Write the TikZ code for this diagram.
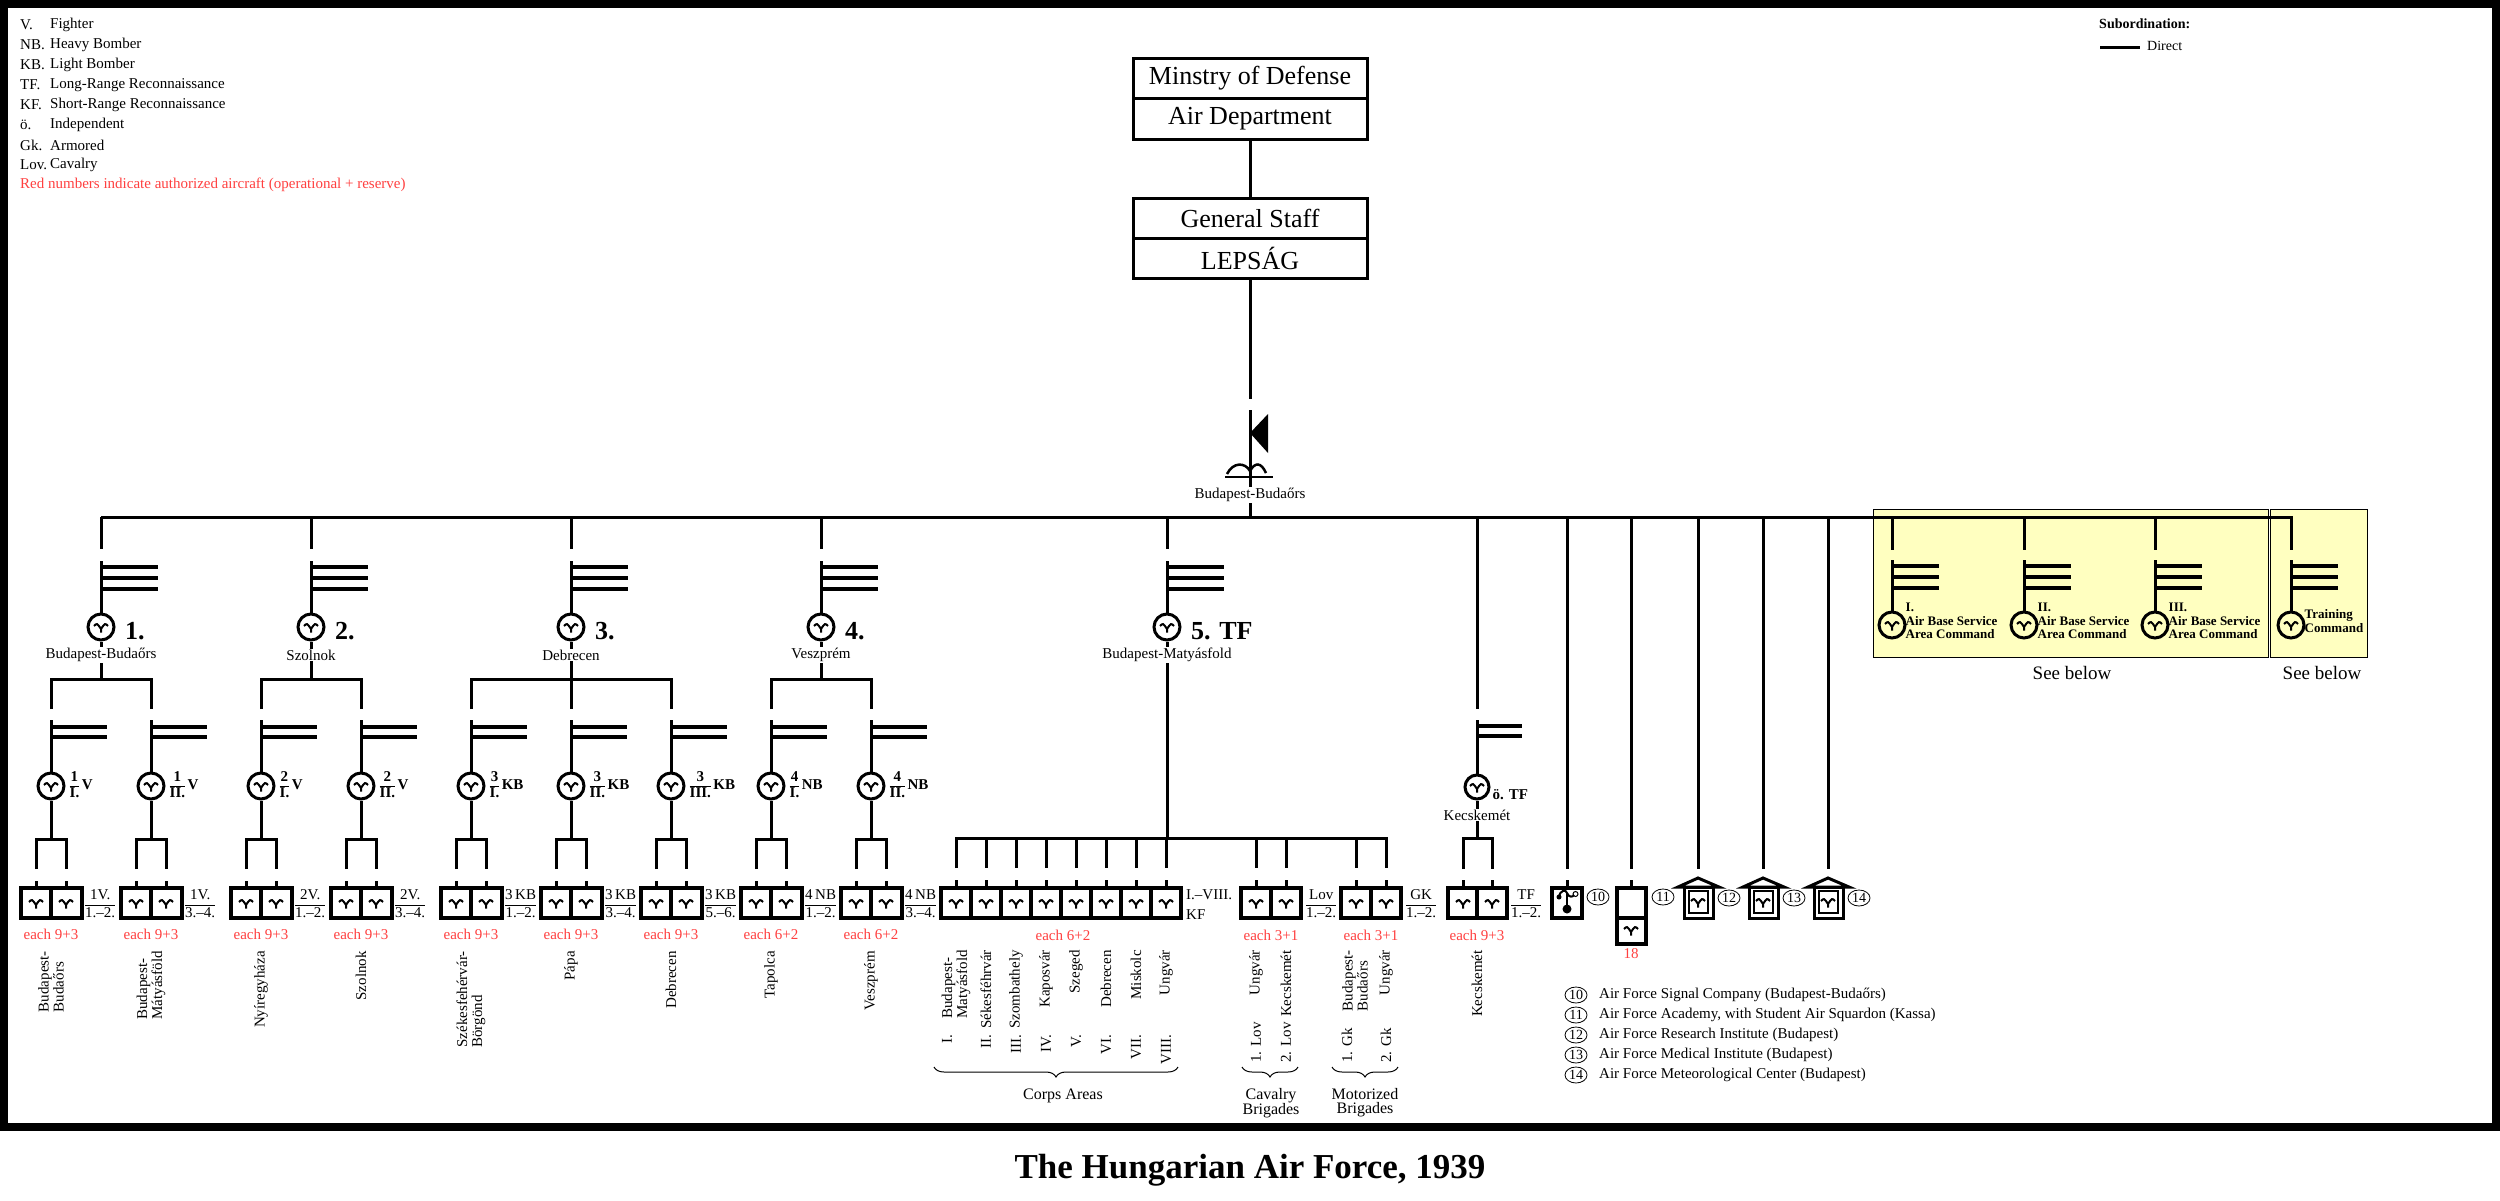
\documentclass[tikz,border=0pt]{standalone}
\usepackage{fontspec}
\setmainfont{Liberation Serif}
\usetikzlibrary{calc,shapes.geometric,decorations.pathreplacing}
\definecolor{rednum}{RGB}{255,64,64}
\definecolor{paleyellow}{RGB}{255,255,192}
\setlength{\arrayrulewidth}{1pt}
\tikzset{
  conn/.style={line width=3pt},
  bars/.style={line width=4.5pt},
  ubox/.style={line width=4pt},
  gullst/.style={line width=2pt},
  wing/.style={draw, circle, line width=3pt, minimum size=26pt, inner sep=0pt},
  lbl/.style={font=\fontsize{15}{17}\selectfont, inner sep=1pt},
  lblw/.style={lbl, fill=white},
  leg/.style={lbl, anchor=west},
  redno/.style={lbl, text=rednum},
  vert/.style={font=\fontsize{15}{15}\selectfont, inner sep=1pt, rotate=90, anchor=east, align=left},
  grp/.style={font=\fontsize{26}{28}\selectfont\bfseries, anchor=west, inner sep=1pt},
  frcl/.style={font=\fontsize{15}{15}\selectfont\bfseries, anchor=west, inner sep=0.5pt},
  cmdl/.style={font=\fontsize{13}{13.5}\selectfont\bfseries, anchor=west, align=left, inner sep=0.5pt},
  hq/.style={draw, line width=3pt, minimum width=234pt, minimum height=40.5pt, inner sep=0pt, font=\fontsize{26}{28}\selectfont},
  numc/.style={draw, ellipse, line width=0.8pt, inner sep=0pt, minimum width=22pt, minimum height=16pt, font=\fontsize{14}{14}\selectfont},
}
\def\frc#1#2{\begin{tabular}{@{}c@{}}#1\\\hline #2\end{tabular}}
\def\gull(#1){\draw[gullst,shift={(#1)}] (-7,-1) .. controls (-4,-4) .. (0,2) .. controls (4,-4) .. (7,-1) (0,2) -- (0,5.5);}
\def\flagIII#1#2#3{\draw[bars] (#1,#2+6) -- (#1+#3,#2+6) (#1,#2+17) -- (#1+#3,#2+17) (#1,#2+28) -- (#1+#3,#2+28);}
\def\flagII#1#2#3{\draw[bars] (#1,#2+7) -- (#1+#3,#2+7) (#1,#2+17) -- (#1+#3,#2+17);}
% group: x, number, seat, foot of the line
\def\group#1#2#3#4{%
  \draw[conn] (#1,517) -- (#1,549);
  \draw[conn] (#1,561) -- (#1,614);
  \flagIII{#1}{561}{57}
  \node[wing] (g#1) at (#1,627) {};
  \gull(#1,627)
  \node[grp] (gn#1) at (#1+23,631) {#2};
  \draw[conn] (g#1) -- (#1,#4);
  \node[lblw] (gc#1) at (#1,655) {#3};
}
% squadron pair: x, top label, box label, aircraft, base
\def\squadron#1#2#3#4#5{%
  \draw[conn] (#1,720) -- (#1,773);
  \flagII{#1}{720}{56}
  \node[wing] (s#1) at (#1,786) {};
  \gull(#1,786)
  \node[frcl] (sf#1) at (#1+18,786) {#2};
  \draw[conn] (s#1) -- (#1,839);
  \draw[conn] (#1-15,869) -- (#1-15,839) -- (#1+15,839) -- (#1+15,869);
  \draw[conn] (#1-15,881) -- (#1-15,888) (#1+15,881) -- (#1+15,888);
  \draw[ubox] (#1-30,888) rectangle (#1+31,918) (#1,888) -- (#1,918);
  \gull(#1-15,903) \gull(#1+15,903)
  \node[lbl, anchor=west] (sb#1) at (#1+33,905) {#3};
  \node[redno] (sr#1) at (#1,934) {#4};
  \node[vert] (sc#1) at (#1,950) {#5};
}
% area command: x, text
\def\command#1#2{%
  \draw[conn] (#1,517) -- (#1,550);
  \draw[conn] (#1,560) -- (#1,612);
  \flagIII{#1}{560}{47}
  \node[wing] (a#1) at (#1,625) {};
  \gull(#1,625)
  \node[cmdl] (al#1) at (#1+13,621) {#2};
}
% institute: x, number
\def\institute#1#2{%
  \draw[conn] (#1,517) -- (#1,869);
  \draw[conn] (#1-20,887) -- (#1,878) -- (#1+21,887) -- cycle;
  \draw[conn] (#1-14,887) rectangle (#1+15,918);
  \draw[line width=2pt] (#1-9,891) rectangle (#1+10,913);
  \gull(#1,902)
  \node[numc] (n#2) at (#1+31,898) {#2};
}

\begin{document}
\begin{tikzpicture}[x=1pt,y=-1pt]
		%%%%% START %%%%%
		\useasboundingbox (0,0) rectangle (2500,1200);
		\fill[white] (0,0) rectangle (2500,1200);
		\draw[line width=8pt] (4,4) rectangle (2496,1127);
		
		% abbreviations
		\node[leg] (k1) at (19,25) {V.};   \node[leg] (m1) at (49,25) {Fighter};
		\node[leg] (k2) at (19,45) {NB.};  \node[leg] (m2) at (49,45) {Heavy Bomber};
		\node[leg] (k3) at (19,65) {KB.};  \node[leg] (m3) at (49,65) {Light Bomber};
		\node[leg] (k4) at (19,85) {TF.};  \node[leg] (m4) at (49,85) {Long-Range Reconnaissance};
		\node[leg] (k5) at (19,105) {KF.}; \node[leg] (m5) at (49,105) {Short-Range Reconnaissance};
		\node[leg] (k6) at (19,125) {ö.};  \node[leg] (m6) at (49,125) {Independent};
		\node[leg] (k7) at (19,145) {Gk.}; \node[leg] (m7) at (49,145) {Armored};
		\node[leg] (k8) at (19,165) {Lov.};\node[leg] (m8) at (49,165) {Cavalry};
		\node[leg, text=rednum] (k9) at (19,185) {Red numbers indicate authorized aircraft (operational + reserve)};
		
		\node[leg, font=\fontsize{14}{16}\selectfont\bfseries] (sub) at (2098,24) {Subordination:};
		\coordinate (d1) at (2100,47); \coordinate (d2) at (2140,47);
		\draw[conn] (d1) -- (d2);
		\node[leg, font=\fontsize{14}{16}\selectfont] (dir) at (2146,46) {Direct};
		
		% top of the chain
		\node[hq] (mod) at (1250,78.5) {Minstry of Defense};
		\node[hq] (aird) at (1250,119) {Air Department};
		\node[hq] (gs) at (1250,218.5) {General Staff};
		\node[hq] (lep) at (1250,258.5) {LEPSÁG};
		\draw[conn] (aird) -- (gs);
		\coordinate (hqgap) at (1250,399);
		\coordinate (hqbase) at (1250,410);
		\coordinate (hub) at (1250,517);
		\draw[conn] (lep) -- (hqgap);
		\draw[conn] (hqbase) -- (hub);
		\fill (1250,433) -- (1268,414) -- (1268,453) -- cycle;
		\draw[line width=2.5pt] (1225,477) -- (1273,477);
		\draw[line width=2.5pt] (1227,474) .. controls (1233,462) and (1245,462) .. (1250,471) .. controls (1255,462) and (1261,462) .. (1266,473);
		\node[lblw] (hqcity) at (1250,495) {Budapest-Budaőrs};
		
		% area commands
		\draw[line width=1pt, fill=paleyellow] (1873,509) rectangle (2268,657);
		\draw[line width=1pt, fill=paleyellow] (2270,509) rectangle (2367,657);
		\node[font=\fontsize{19}{21}\selectfont] (see1) at (2072,673) {See below};
		\node[font=\fontsize{19}{21}\selectfont] (see2) at (2322,673) {See below};
		
		% bus
		\coordinate (busl) at (101,517); \coordinate (busr) at (2291,517);
		\draw[conn] (busl) -- (busr) -- (2291,550);
		
		\command{1892}{I.\\Air Base Service\\Area Command}
		\command{2024}{II.\\Air Base Service\\Area Command}
		\command{2155}{III.\\Air Base Service\\Area Command}
		\command{2291}{Training\\Command}
		
		% air brigades
		\group{101}{1.}{Budapest-Budaőrs}{679}
		\group{311}{2.}{Szolnok}{679}
		\group{571}{3.}{Debrecen}{709}
		\group{821}{4.}{Veszprém}{679}
		\group{1167}{5. TF}{Budapest-Matyásfold}{838}
		
		\draw[conn] (51,709) -- (51,679) -- (151,679) -- (151,709);
		\draw[conn] (261,709) -- (261,679) -- (361,679) -- (361,709);
		\draw[conn] (471,709) -- (471,679) -- (671,679) -- (671,709);
		\draw[conn] (771,709) -- (771,679) -- (871,679) -- (871,709);
		
		\squadron{51}{\frc{1}{I.}\,V}{\frc{1V.}{1.–2.}}{each 9+3}{Budapest-\\Budaőrs}
		\squadron{151}{\frc{1}{II.}\,V}{\frc{1V.}{3.–4.}}{each 9+3}{Budapest-\\Mátyásföld}
		\squadron{261}{\frc{2}{I.}\,V}{\frc{2V.}{1.–2.}}{each 9+3}{Nyíregyháza}
		\squadron{361}{\frc{2}{II.}\,V}{\frc{2V.}{3.–4.}}{each 9+3}{Szolnok}
		\squadron{471}{\frc{3}{I.}\,KB}{\frc{3\,KB}{1.–2.}}{each 9+3}{Székesfehérvár-\\Börgönd}
		\squadron{571}{\frc{3}{II.}\,KB}{\frc{3\,KB}{3.–4.}}{each 9+3}{Pápa}
		\squadron{671}{\frc{3}{III.}\,KB}{\frc{3\,KB}{5.–6.}}{each 9+3}{Debrecen}
		\squadron{771}{\frc{4}{I.}\,NB}{\frc{4\,NB}{1.–2.}}{each 6+2}{Tapolca}
		\squadron{871}{\frc{4}{II.}\,NB}{\frc{4\,NB}{3.–4.}}{each 6+2}{Veszprém}
		
		% reconnaissance
		\draw[conn] (956,868) -- (956,838) -- (1386,838) -- (1386,868);
		\draw[conn] (986,838) -- (986,868) (1016,838) -- (1016,868) (1046,838) -- (1046,868) (1076,838) -- (1076,868)
		            (1106,838) -- (1106,868) (1136,838) -- (1136,868) (1166,838) -- (1166,868)
		            (1256,838) -- (1256,868) (1286,838) -- (1286,868) (1356,838) -- (1356,868);
		\foreach \x in {956,986,...,1166,1256,1286,1356,1386} {
			\draw[conn] (\x,880) -- (\x,888);
			\gull(\x,903)
		}
		\draw[ubox] (941,888) rectangle (1181,918);
		\foreach \x in {971,1001,...,1151} \draw[ubox] (\x,888) -- (\x,918);
		\draw[ubox] (1241,888) rectangle (1301,918) (1271,888) -- (1271,918);
		\draw[ubox] (1341,888) rectangle (1401,918) (1371,888) -- (1371,918);
		\node[lbl, anchor=west, align=left, font=\fontsize{15}{20}\selectfont] (kfl) at (1185,905) {I.–VIII.\\KF};
		\node[lbl, anchor=west] (lovl) at (1305,905) {\frc{Lov}{1.–2.}};
		\node[lbl, anchor=west] (gkl) at (1405,905) {\frc{GK}{1.–2.}};
		\node[redno] (r5) at (1063,935) {each 6+2};
		\node[redno] (rlov) at (1271,935) {each 3+1};
		\node[redno] (rgk) at (1371,935) {each 3+1};
		
		\node[vert] (cc1) at (956,949) {Budapest-\\Matyásfold};
		\node[vert] (cc2) at (986,949) {Sékesféhrvár};
		\node[vert] (cc3) at (1016,949) {Szombathely};
		\node[vert] (cc4) at (1046,949) {Kaposvár};
		\node[vert] (cc5) at (1076,949) {Szeged};
		\node[vert] (cc6) at (1106,949) {Debrecen};
		\node[vert] (cc7) at (1136,949) {Miskolc};
		\node[vert] (cc8) at (1166,949) {Ungvár};
		\node[vert] (cn1) at (947,1034) {I.};
		\node[vert] (cn2) at (986,1034) {II.};
		\node[vert] (cn3) at (1016,1034) {III.};
		\node[vert] (cn4) at (1046,1034) {IV.};
		\node[vert] (cn5) at (1076,1034) {V.};
		\node[vert] (cn6) at (1106,1034) {VI.};
		\node[vert] (cn7) at (1136,1034) {VII.};
		\node[vert] (cn8) at (1166,1034) {VIII.};
		\node[vert] (lc1) at (1256,949) {Ungvár};
		\node[vert] (lc2) at (1286,949) {Kecskemét};
		\node[vert, anchor=west] (ln1) at (1256,1064) {1. Lov};
		\node[vert, anchor=west] (ln2) at (1286,1064) {2. Lov};
		\node[vert] (mc1) at (1355,949) {Budapest-\\Budaőrs};
		\node[vert] (mc2) at (1386,949) {Ungvár};
		\node[vert, anchor=west] (mn1) at (1347,1064) {1. Gk};
		\node[vert, anchor=west] (mn2) at (1386,1064) {2. Gk};
		
		\draw[line width=1pt, decorate, decoration={brace, mirror, amplitude=10pt}] (934,1067) -- (1178,1067);
		\draw[line width=1pt, decorate, decoration={brace, mirror, amplitude=10pt}] (1242,1067) -- (1298,1067);
		\draw[line width=1pt, decorate, decoration={brace, mirror, amplitude=10pt}] (1332,1067) -- (1398,1067);
		\node[lbl, font=\fontsize{16}{14}\selectfont] (ca) at (1063,1096) {Corps Areas};
		\node[lbl, align=center, font=\fontsize{16}{14}\selectfont] (cb) at (1271,1103) {Cavalry\\Brigades};
		\node[lbl, align=center, font=\fontsize{16}{14}\selectfont] (mb) at (1365,1103) {Motorized\\Brigades};
		
		% independent long-range squadron
		\draw[conn] (1477,517) -- (1477,709);
		\draw[conn] (1477,720) -- (1477,774);
		\flagII{1477}{719}{45}
		\node[wing, minimum size=24pt] (oe) at (1477,787) {};
		\gull(1477,787)
		\node[frcl, font=\fontsize{15}{15}\selectfont\bfseries] (oel) at (1492,795) {ö. TF};
		\draw[conn] (oe) -- (1477,838);
		\node[lblw] (oec) at (1477,815) {Kecskemét};
		\draw[conn] (1463,869) -- (1463,838) -- (1492,838) -- (1492,869);
		\draw[conn] (1463,880) -- (1463,888) (1492,880) -- (1492,888);
		\draw[ubox] (1448,888) rectangle (1507,918) (1477,888) -- (1477,918);
		\gull(1463,903) \gull(1492,903)
		\node[lbl, anchor=west] (oeb) at (1510,905) {\frc{TF}{1.–2.}};
		\node[redno] (oer) at (1477,935) {each 9+3};
		\node[vert] (oev) at (1477,949) {Kecskemét};
		
		% signal company
		\draw[conn] (1567,517) -- (1567,869);
		\draw[conn] (1567,880) -- (1567,888);
		\draw[ubox] (1552,888) rectangle (1582,918);
		\draw[line width=2pt] (1567,893) -- (1567,908);
		\fill (1567,909) circle (4.5);
		\fill (1559,897) circle (2.5);
		\draw[line width=2pt] (1559,897) .. controls (1560,890) and (1566,889) .. (1567,893) .. controls (1569,898) and (1573,897) .. (1574,895);
		\draw[line width=1pt] (1575.5,894) circle (2.5);
		\node[numc] (n10) at (1598,897) {10};
		
		% academy
		\draw[conn] (1631,517) -- (1631,869);
		\draw[conn] (1631,880) -- (1631,888);
		\draw[ubox] (1617,888) rectangle (1646,944) (1617,918) -- (1646,918);
		\gull(1631,930)
		\node[redno] (r11) at (1631,954) {18};
		\node[numc] (n11) at (1663,897) {11};
		
		\institute{1698}{12}
		\institute{1763}{13}
		\institute{1828}{14}
		
		% key to the numbers
		\node[numc] (e10) at (1576,995) {10};  \node[leg] (t10) at (1598,995) {Air Force Signal Company (Budapest-Budaőrs)};
		\node[numc] (e11) at (1576,1015) {11}; \node[leg] (t11) at (1598,1015) {Air Force Academy, with Student Air Squardon (Kassa)};
		\node[numc] (e12) at (1576,1035) {12}; \node[leg] (t12) at (1598,1035) {Air Force Research Institute (Budapest)};
		\node[numc] (e13) at (1576,1055) {13}; \node[leg] (t13) at (1598,1055) {Air Force Medical Institute (Budapest)};
		\node[numc] (e14) at (1576,1075) {14}; \node[leg] (t14) at (1598,1075) {Air Force Meteorological Center (Budapest)};
		
		\node[font=\fontsize{35}{38}\selectfont\bfseries] (title) at (1250,1170) {The Hungarian Air Force, 1939};
		%%%%% END %%%%%
\end{tikzpicture}
\end{document}
